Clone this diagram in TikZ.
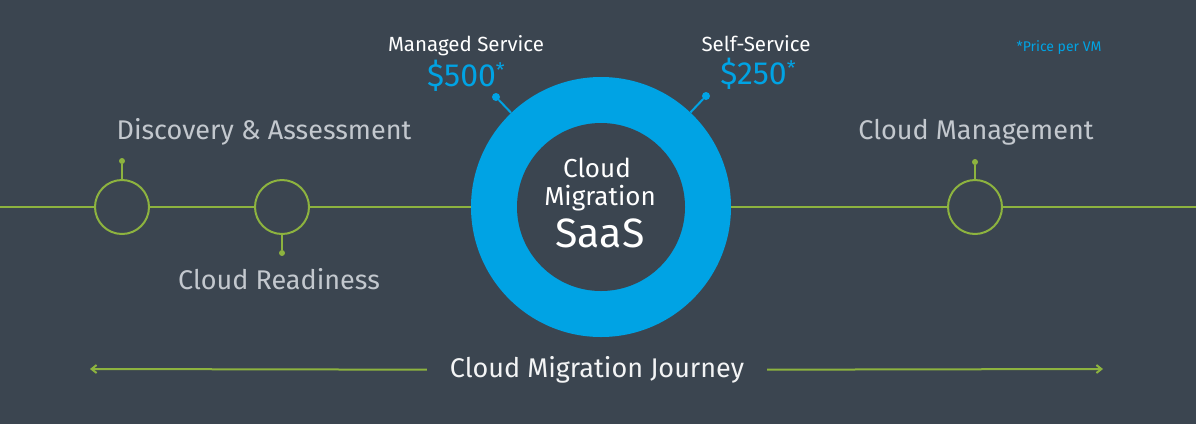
\documentclass[tikz,border=0pt]{standalone}
\usepackage{fontspec}
\setmainfont{Fira Sans}
\usetikzlibrary{arrows.meta,positioning}
\definecolor{slate}{HTML}{3B4550}
\definecolor{leaf}{HTML}{8DB33F}
\definecolor{sky}{HTML}{00A3E4}
\definecolor{mist}{HTML}{C3C8CE}

\begin{document}
\begin{tikzpicture}[x=1pt,y=-1pt,
  stage/.style={circle,draw=leaf,line width=2pt,minimum size=54pt,inner sep=0pt},
  stagepin/.style={circle,fill=leaf,inner sep=0pt,minimum size=6pt},
  pricepin/.style={circle,fill=sky,inner sep=0pt,minimum size=8pt},
  track/.style={draw=leaf,line width=2pt},
  phase/.style={text=mist,font=\fontsize{27}{32}\selectfont,inner sep=0pt},
  plan/.style={text=white,font=\fontsize{20.5}{24}\selectfont,inner sep=0pt},
  price/.style={text=sky,font=\fontsize{32}{36}\selectfont,inner sep=0pt}]
  \fill[slate] (0,0) rectangle (1196,424);
  \useasboundingbox (0,0) rectangle (1196,424);

  % the ring in the middle
  \node[circle,fill=sky,minimum size=260pt,inner sep=0pt] (ring) at (601,207) {};
  \node[circle,fill=slate,minimum size=168pt,inner sep=0pt] (hub) at (601,207) {};
  \node[text=white,font=\fontsize{26}{30}\selectfont,inner sep=0pt] (cloud) at (597,168) {Cloud};
  \node[text=white,font=\fontsize{26}{30}\selectfont,inner sep=0pt] (migration) at (600,198) {Migration};
  \node[text=white,font=\fontsize{41}{46}\selectfont,inner sep=0pt] (saas) at (600,233) {SaaS};

  % stages on the line
  \node[stage] (s1) at (122,207) {};
  \node[stage] (s2) at (282,207) {};
  \node[stage] (s3) at (975,207) {};
  \node[stagepin] (p1) at (122,161) {};
  \node[stagepin] (p2) at (282,253) {};
  \node[stagepin] (p3) at (975,162) {};
  \coordinate (west) at (0,207);
  \coordinate (east) at (1196,207);
  \draw[track] (west) -- (s1) (s1) -- (s2) (s2) -- (ring) (ring) -- (s3) (s3) -- (east);
  \draw[track] (s1) -- (p1) (s2) -- (p2) (s3) -- (p3);

  \node[phase] (discovery) at (264,132) {Discovery \& Assessment};
  \node[phase] (readiness) at (279,279) {Cloud Readiness};
  \node[phase] (management) at (976,132) {Cloud Management};

  % prices
  \node[pricepin] (m1) at (496,97) {};
  \node[pricepin] (m2) at (706,96) {};
  \draw[sky,line width=2pt] (m1) -- (ring) (m2) -- (ring);
  \node[plan] (managed) at (466,46) {Managed Service};
  \node[price] (p500) at (466,76) {\$500\raisebox{9pt}{\fontsize{20}{20}\selectfont*}};
  \node[plan] (self) at (756,44) {Self-Service};
  \node[price] (p250) at (758,74) {\$250\raisebox{9pt}{\fontsize{20}{20}\selectfont*}};
  \node[text=sky,font=\fontsize{14}{16}\selectfont,inner sep=0pt] (note) at (1059,48) {*Price per VM};

  % journey
  \node[phase,text=white!80!mist,outer xsep=23pt] (journey) at (597,370) {Cloud Migration Journey};
  \coordinate (jwest) at (90,369);
  \coordinate (jeast) at (1103,369);
  \draw[track,-{Straight Barb[length=5pt,width=8pt]}] (journey) -- (jwest);
  \draw[track,-{Straight Barb[length=5pt,width=8pt]}] (journey) -- (jeast);
\end{tikzpicture}
\end{document}
